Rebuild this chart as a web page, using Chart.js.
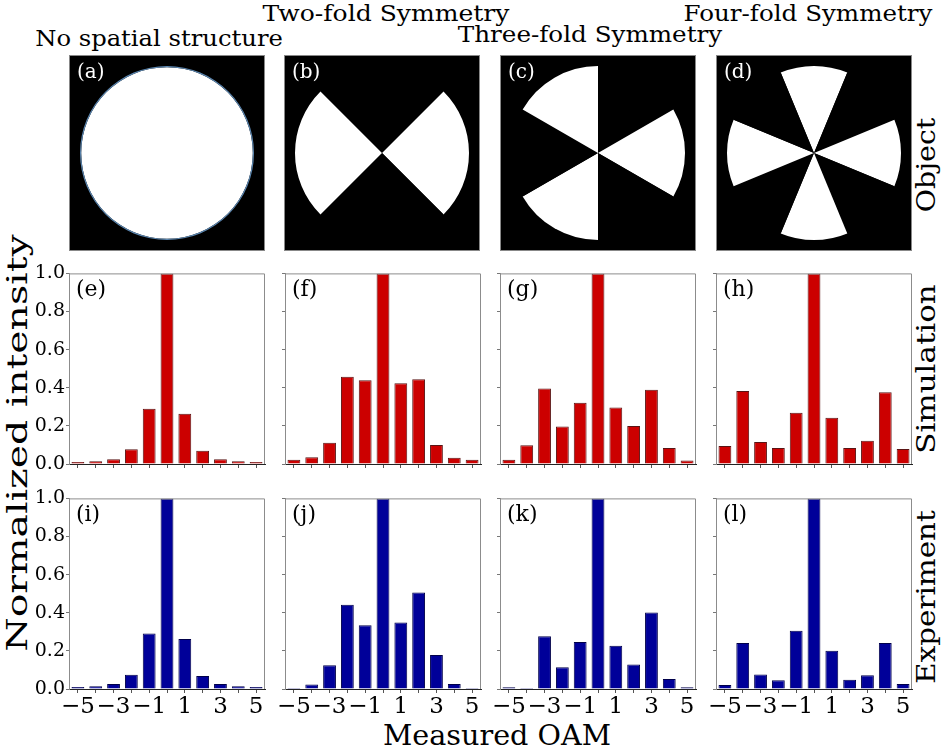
<!DOCTYPE html>
<html>
<head>
<meta charset="UTF-8">
<title>OAM spectra</title>
<script src="https://cdn.jsdelivr.net/npm/chart.js"></script>
<style>
  body { margin: 0; background: #fff; width: 942px; height: 755px; position: relative; overflow: hidden; font-family: "DejaVu Serif", serif; }
  .lbl { position: absolute; white-space: nowrap; line-height: 1; color: #000; }
  .obj { position: absolute; top: 55px; width: 196px; height: 196px; box-sizing: border-box; border: 1px solid #888; background: #000; }
  .obj canvas { display: block; }
  canvas.bar { position: absolute; }
</style>
</head>
<body>

<!-- column titles / row labels / axis labels -->
<div class="lbl" data-x="159" data-y="39" data-len="248" style="font-size:22px">No spatial structure</div>
<div class="lbl" data-x="386" data-y="14" data-len="247" style="font-size:22px">Two-fold Symmetry</div>
<div class="lbl" data-x="590" data-y="35" data-len="264" style="font-size:22px">Three-fold Symmetry</div>
<div class="lbl" data-x="808" data-y="14" data-len="249" style="font-size:22px">Four-fold Symmetry</div>

<div class="lbl" data-x="926" data-y="165" data-len="94" data-rot="-90" style="font-size:26px">Object</div>
<div class="lbl" data-x="926" data-y="369" data-len="170" data-rot="-90" style="font-size:26px">Simulation</div>
<div class="lbl" data-x="926" data-y="597" data-len="174" data-rot="-90" style="font-size:26px">Experiment</div>

<div class="lbl" data-x="18" data-y="443" data-len="417" data-rot="-90" style="font-size:28px">Normalized intensity</div>
<div class="lbl" data-x="497" data-y="736" data-len="228" style="font-size:28px">Measured OAM</div>

<!-- object masks -->
<div class="obj" style="left:69px"><canvas id="objA" width="194" height="194"></canvas></div>
<div class="obj" style="left:284px"><canvas id="objB" width="194" height="194"></canvas></div>
<div class="obj" style="left:500px"><canvas id="objC" width="194" height="194"></canvas></div>
<div class="obj" style="left:716px"><canvas id="objD" width="194" height="194"></canvas></div>

<!-- spectra: canvas left = plot left - 52, top = plot top - 8 -->
<canvas class="bar" id="simE" width="256" height="241" style="left:17px;top:261px"></canvas>
<canvas class="bar" id="simF" width="256" height="241" style="left:233px;top:261px"></canvas>
<canvas class="bar" id="simG" width="256" height="241" style="left:448px;top:261px"></canvas>
<canvas class="bar" id="simH" width="256" height="241" style="left:664px;top:261px"></canvas>
<canvas class="bar" id="expI" width="256" height="241" style="left:17px;top:486px"></canvas>
<canvas class="bar" id="expJ" width="256" height="241" style="left:233px;top:486px"></canvas>
<canvas class="bar" id="expK" width="256" height="241" style="left:448px;top:486px"></canvas>
<canvas class="bar" id="expL" width="256" height="241" style="left:664px;top:486px"></canvas>

<script>
// ---- data ----
const oam = [-5, -4, -3, -2, -1, 0, 1, 2, 3, 4, 5];
const xTickLabels = [-5, -3, -1, 1, 3, 5];
const yTickLabels = [0.0, 0.2, 0.4, 0.6, 0.8, 1.0];

const simNone  = [0.010, 0.015, 0.025, 0.077, 0.290, 1.000, 0.263, 0.070, 0.025, 0.015, 0.010];
const simTwo   = [0.022, 0.036, 0.111, 0.458, 0.439, 1.000, 0.424, 0.444, 0.100, 0.033, 0.022];
const simThree = [0.022, 0.098, 0.396, 0.197, 0.321, 1.000, 0.297, 0.200, 0.389, 0.084, 0.019];
const simFour  = [0.094, 0.383, 0.115, 0.084, 0.269, 1.000, 0.242, 0.084, 0.122, 0.377, 0.079];

const expNone  = [0.010, 0.015, 0.026, 0.075, 0.291, 1.000, 0.262, 0.068, 0.026, 0.015, 0.010];
const expTwo   = [0.005, 0.024, 0.124, 0.442, 0.334, 1.000, 0.349, 0.506, 0.179, 0.026, 0.005];
const expThree = [0.009, 0.005, 0.277, 0.114, 0.246, 1.000, 0.227, 0.129, 0.401, 0.053, 0.009];
const expFour  = [0.021, 0.241, 0.076, 0.046, 0.305, 1.000, 0.201, 0.048, 0.072, 0.241, 0.026];

// object masks as sectors (degrees, clockwise from the start angle)
const maskNone  = [360];
const maskTwo   = [90, 90, 90, 90];
const maskThree = [60, 60, 60, 60, 60, 60];
const maskFour  = [45, 45, 45, 45, 45, 45, 45, 45];

const BLACK = '#000000', WHITE = '#ffffff';
const FONT = 'DejaVu Serif';

// ---- labels outside the charts ----
document.querySelectorAll('.lbl').forEach(function (el) {
  el.style.left = el.dataset.x + 'px';
  el.style.top = el.dataset.y + 'px';
  var k = (+el.dataset.len) / el.offsetWidth;
  var rot = el.dataset.rot || 0;
  el.style.transform = 'translate(-50%,-50%) rotate(' + rot + 'deg) scaleX(' + k + ')';
});

// ---- plugins ----
const tagPlugin = {
  id: 'tag',
  afterDraw(chart, args, opts) {
    const ctx = chart.ctx, a = chart.chartArea;
    ctx.save();
    ctx.font = (opts.size || 22) + 'px "' + FONT + '"';
    ctx.fillStyle = opts.color;
    ctx.textBaseline = 'top';
    ctx.fillText(opts.text, a.left + 7, a.top + (opts.dy || 6));
    ctx.restore();
  }
};

const framePlugin = {
  id: 'frame',
  afterDraw(chart) {
    const ctx = chart.ctx, a = chart.chartArea;
    ctx.save();
    ctx.strokeStyle = '#8c8c8c';
    ctx.lineWidth = 1;
    ctx.beginPath();
    ctx.moveTo(a.left, a.top + 0.5);
    ctx.lineTo(a.right - 0.5, a.top + 0.5);
    ctx.lineTo(a.right - 0.5, a.bottom);
    ctx.stroke();
    ctx.restore();
  }
};

function fmt(n) { return n < 0 ? '\u2212' + Math.abs(n) : String(n); }

function makeBars(id, values, fill, edge, tag, showY, showX) {
  new Chart(document.getElementById(id), {
    type: 'bar',
    data: {
      labels: oam,
      datasets: [{
        data: values,
        backgroundColor: fill,
        borderColor: edge,
        borderWidth: 1,
        barPercentage: 0.72,
        categoryPercentage: 1
      }]
    },
    options: {
      responsive: false,
      animation: false,
      events: [],
      layout: { padding: { top: 8, right: 8, left: 0, bottom: 0 } },
      plugins: {
        legend: { display: false },
        tooltip: { enabled: false },
        tag: { text: tag, color: '#000', size: 22 }
      },
      scales: {
        x: {
          grid: { display: true, offset: false, drawOnChartArea: false, drawTicks: true, tickLength: 4, color: '#555' },
          border: { color: '#222', width: 1 },
          ticks: {
            autoSkip: false, maxRotation: 0, minRotation: 0, padding: 0,
            color: '#000', font: { family: FONT, size: 23 },
            callback: function (v, i) {
              if (!showX) return '';
              return xTickLabels.includes(oam[i]) ? fmt(oam[i]) : '';
            }
          },
          afterFit(s) { s.height = 38; }
        },
        y: {
          min: 0, max: 1,
          grid: { drawOnChartArea: false, drawTicks: true, tickLength: 3, color: '#777' },
          border: { color: '#8c8c8c', width: 1 },
          ticks: {
            stepSize: 0.1, padding: 1,
            color: '#000', font: { family: FONT, size: 19 },
            callback: function (v) {
              if (!showY) return '';
              return yTickLabels.some(t => Math.abs(t - v) < 1e-6) ? v.toFixed(1) : '';
            }
          },
          afterFit(s) { s.width = 52; }
        }
      }
    },
    plugins: [framePlugin, tagPlugin]
  });
}

// datasets: list of {sectors, colors, weight}; outer ring first
function makeMask(id, rings, rotation, tag) {
  new Chart(document.getElementById(id), {
    type: 'doughnut',
    data: {
      labels: rings[rings.length - 1].sectors.map((_, i) => 's' + i),
      datasets: rings.map(r => ({
        data: r.sectors,
        backgroundColor: r.colors,
        borderWidth: 0,
        weight: r.weight || 1
      }))
    },
    options: {
      responsive: false,
      animation: false,
      events: [],
      cutout: 0,
      rotation: rotation,
      radius: 87,
      plugins: {
        legend: { display: false },
        tooltip: { enabled: false },
        tag: { text: tag, color: WHITE, size: 20, dy: 7 }
      }
    },
    plugins: [tagPlugin]
  });
}

// plain disc: thin bluish rim around a white disc
makeMask('objA', [
  { sectors: maskNone, colors: ['#5b86b0'], weight: 1.2 },
  { sectors: maskNone, colors: [WHITE], weight: 86 }
], 0, '(a)');
makeMask('objB', [{ sectors: maskTwo, colors: [BLACK, WHITE, BLACK, WHITE] }], -45, '(b)');
makeMask('objC', [{ sectors: maskThree, colors: [BLACK, WHITE, BLACK, WHITE, BLACK, WHITE] }], 0, '(c)');
makeMask('objD', [{ sectors: maskFour, colors: [WHITE, BLACK, WHITE, BLACK, WHITE, BLACK, WHITE, BLACK] }], -22.5, '(d)');

const RED = '#cc0000', RED_EDGE = '#5a1414';
const BLUE = '#000099', BLUE_EDGE = '#00004a';

makeBars('simE', simNone,  RED, RED_EDGE, '(e)', true,  false);
makeBars('simF', simTwo,   RED, RED_EDGE, '(f)', false, false);
makeBars('simG', simThree, RED, RED_EDGE, '(g)', false, false);
makeBars('simH', simFour,  RED, RED_EDGE, '(h)', false, false);
makeBars('expI', expNone,  BLUE, BLUE_EDGE, '(i)', true,  true);
makeBars('expJ', expTwo,   BLUE, BLUE_EDGE, '(j)', false, true);
makeBars('expK', expThree, BLUE, BLUE_EDGE, '(k)', false, true);
makeBars('expL', expFour,  BLUE, BLUE_EDGE, '(l)', false, true);
</script>
</body>
</html>
